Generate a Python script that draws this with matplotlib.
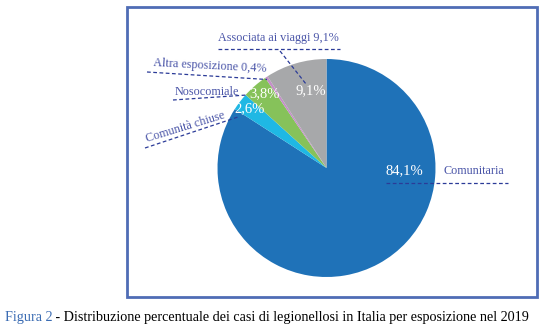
import numpy as np
import matplotlib
matplotlib.use("Agg")
import matplotlib.pyplot as plt
from matplotlib.patches import Rectangle

# data
categories = ["Comunitaria", "Comunità chiuse", "Nosocomiale",
              "Altra esposizione", "Associata ai viaggi"]
values = [84.1, 2.6, 3.8, 0.4, 9.1]
colors = ["#1f72b8", "#1fb8e4", "#86c25a", "#c48fc8", "#a7a8aa"]
pct_labels = ["84,1%", "2,6%", "3,8%", "", "9,1%"]

W, H = 551, 329
plt.rcParams["font.family"] = ["Liberation Serif", "DejaVu Serif"]

fig = plt.figure(figsize=(W / 100, H / 100), dpi=100)
ax = fig.add_axes([0, 0, 1, 1])


def Y(y):
    # image row -> data y
    return H - y


ax.pie(values, colors=colors, startangle=90, counterclock=False,
       center=(326.5, Y(168)), radius=109, frame=True,
       wedgeprops=dict(linewidth=0))
ax.set_xlim(0, W)
ax.set_ylim(0, H)
ax.axis("off")

# frame
ax.add_patch(Rectangle((127, Y(297)), 410, 290, fill=False,
                       edgecolor="#4f6db5", lw=2.0))

# percentages inside
pct_pos = [(404, 171), (250, 109), (264, 94), None, (311, 91)]
for lab, p in zip(pct_labels, pct_pos):
    if p:
        ax.text(p[0], Y(p[1]), lab, color="white", fontsize=10.5,
                ha="center", va="center")

lc = "#4a55a8"
dc = "#2b3b98"
dash = dict(color=dc, lw=0.9, ls=(0, (3, 2)))

# category labels with dashed underline / leader
ax.text(278, Y(38), categories[4] + " 9,1%", color=lc, fontsize=8.7,
        ha="center", va="center")
ax.plot([218, 340], [Y(49), Y(49)], **dash)
ax.plot([280, 306], [Y(51), Y(84)], **dash)

ax.text(210, Y(66), categories[3] + " 0,4%", color=lc, fontsize=8.7,
        ha="center", va="center", rotation=-3)
ax.plot([147, 267], [Y(72), Y(79.5)], **dash)

ax.text(207, Y(92), categories[2], color=lc, fontsize=8.7,
        ha="center", va="center")
ax.plot([173, 247], [Y(100), Y(95)], **dash)

ax.text(185, Y(127), categories[1], color=lc, fontsize=8.7,
        ha="center", va="center", rotation=17)
ax.plot([145, 238], [Y(148), Y(117)], **dash)

ax.text(474, Y(171), categories[0], color=lc, fontsize=8.7,
        ha="center", va="center")
ax.plot([386, 508], [Y(183), Y(183)], **dash)

# caption
t1 = ax.text(5, Y(318), "Figura 2", color="#3b6cb3", fontsize=10.2,
             ha="left", va="center")
ax.annotate(" - Distribuzione percentuale dei casi di legionellosi in Italia per esposizione nel 2019",
            xy=(1, 0.5), xycoords=t1, ha="left", va="center",
            color="black", fontsize=10.2)

fig.savefig("out.png", dpi=100)
